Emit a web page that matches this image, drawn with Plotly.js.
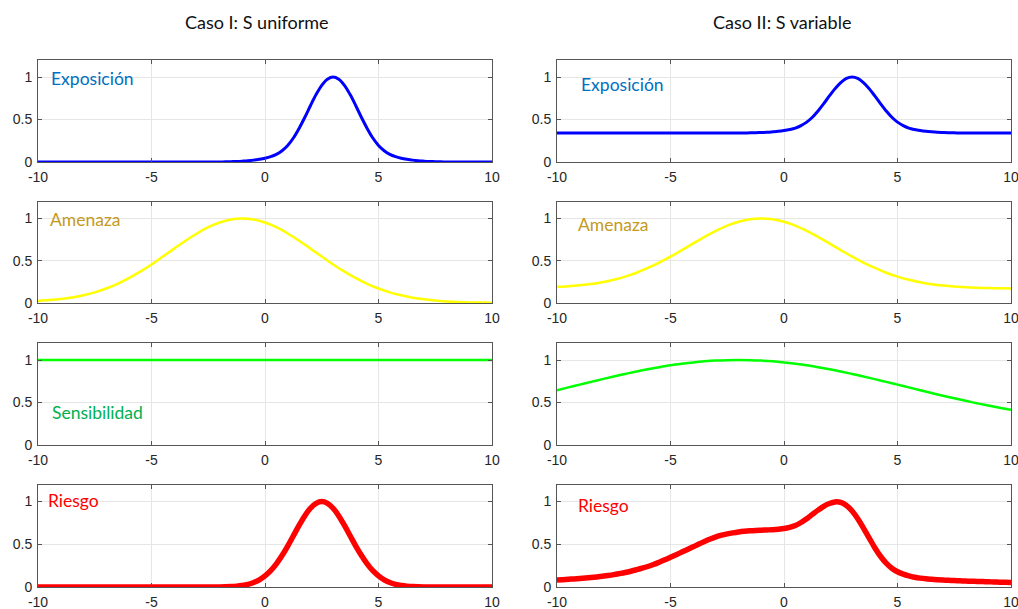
<!DOCTYPE html>
<html>
<head>
<meta charset="utf-8">
<script src="https://cdn.plot.ly/plotly-3.0.1.min.js"></script>
<style>html,body{margin:0;padding:0;background:#fff;}#chart{width:1018px;height:609px;}</style>
</head>
<body>
<div id="chart"></div>
<script>
// ---- data ----
// coarse grid (step 0.5) for the broad curves
const xCoarse = [-10,-9.5,-9,-8.5,-8,-7.5,-7,-6.5,-6,-5.5,-5,-4.5,-4,-3.5,-3,-2.5,-2,-1.5,-1,-0.5,0,0.5,1,1.5,2,2.5,3,3.5,4,4.5,5,5.5,6,6.5,7,7.5,8,8.5,9,9.5,10];
// fine grid (step 0.25) for the peaked curves
const xFine = [-10,-9.75,-9.5,-9.25,-9,-8.75,-8.5,-8.25,-8,-7.75,-7.5,-7.25,-7,-6.75,-6.5,-6.25,-6,-5.75,-5.5,-5.25,-5,-4.75,-4.5,-4.25,-4,-3.75,-3.5,-3.25,-3,-2.75,-2.5,-2.25,-2,-1.75,-1.5,-1.25,-1,-0.75,-0.5,-0.25,0,0.25,0.5,0.75,1,1.25,1.5,1.75,2,2.25,2.5,2.75,3,3.25,3.5,3.75,4,4.25,4.5,4.75,5,5.25,5.5,5.75,6,6.25,6.5,6.75,7,7.25,7.5,7.75,8,8.25,8.5,8.75,9,9.25,9.5,9.75,10];

// Caso I
const expo1 = [0,0,0,0,0,0,0,0,0,0,0,0,0,0,0,0,0,0,0,0,0,0,0,0,0,0,0,0,0,0,0,0,
  0.001,0.002,0.004,0.006,0.01,0.015,0.022,0.032,0.045,0.063,0.09,0.133,0.195,0.282,0.395,0.524,0.662,0.793,0.902,0.974,1,
  0.974,0.902,0.793,0.662,0.524,0.395,0.282,0.195,0.133,0.09,0.063,0.045,0.032,0.022,0.015,0.01,0.006,0.004,0.002,0.001,
  0,0,0,0,0,0,0,0];
const amen1 = [0.025,0.034,0.047,0.065,0.091,0.126,0.171,0.227,0.294,0.371,0.456,0.549,0.643,0.736,0.822,0.896,0.952,0.988,1,0.988,0.952,0.896,0.822,0.736,0.643,0.549,0.456,0.371,0.294,0.227,0.171,0.126,0.091,0.063,0.043,0.029,0.019,0.012,0.007,0.005,0.003];
const sens1 = [1,1,1,1,1,1,1,1,1,1,1,1,1,1,1,1,1,1,1,1,1,1,1,1,1,1,1,1,1,1,1,1,1,1,1,1,1,1,1,1,1];
const ries1 = [0,0,0,0,0,0,0,0,0,0,0,0,0,0,0,0,0,0,0,0,0,0,0,0,0,0,0,0,0,0,
  0,0.0006,0.0013,0.0027,0.0054,0.0101,0.0183,0.0317,0.0528,0.0845,0.13,0.191,0.271,0.368,0.479,0.6,0.721,0.832,0.922,0.98,1,
  0.98,0.922,0.832,0.721,0.6,0.479,0.368,0.271,0.191,0.13,0.0845,0.0528,0.0317,0.0183,0.0101,0.0054,0.0027,0.0013,0.0006,0,
  0,0,0,0,0,0,0,0,0,0];

// Caso II
const expo2 = [0.34,0.34,0.34,0.34,0.34,0.34,0.34,0.34,0.34,0.34,0.34,0.34,0.34,0.34,0.34,0.34,0.34,0.34,0.34,0.34,0.34,0.34,0.34,0.34,0.34,0.34,0.34,0.34,0.34,0.34,0.34,0.34,
  0.341,0.341,0.343,0.344,0.347,0.35,0.355,0.361,0.37,0.382,0.399,0.428,0.469,0.526,0.601,0.686,0.777,0.863,0.935,0.983,1,
  0.983,0.935,0.863,0.777,0.686,0.601,0.526,0.469,0.428,0.399,0.382,0.37,0.361,0.355,0.35,0.347,0.344,0.343,0.341,0.341,
  0.34,0.34,0.34,0.34,0.34,0.34,0.34,0.34];
const amen2 = [0.191,0.198,0.209,0.224,0.246,0.275,0.312,0.358,0.414,0.478,0.548,0.626,0.704,0.781,0.852,0.914,0.96,0.99,1,0.99,0.96,0.914,0.852,0.781,0.704,0.626,0.548,0.478,0.414,0.358,0.312,0.275,0.246,0.222,0.206,0.194,0.186,0.18,0.176,0.174,0.172];
const sens2 = [0.645,0.678,0.71,0.743,0.775,0.806,0.836,0.864,0.891,0.915,0.937,0.955,0.971,0.984,0.993,0.998,1,0.998,0.993,0.984,0.971,0.955,0.937,0.915,0.891,0.864,0.836,0.806,0.775,0.743,0.71,0.678,0.645,0.612,0.58,0.549,0.52,0.491,0.464,0.438,0.414];
const ries2 = [0.083,0.086,0.09,0.095,0.1,0.105,0.111,0.118,0.126,0.135,0.145,0.157,0.17,0.185,0.202,0.22,0.24,0.263,0.29,0.318,
  0.348,0.378,0.409,0.44,0.471,0.503,0.533,0.562,0.587,0.607,0.622,0.634,0.644,0.652,0.658,0.662,0.665,0.668,0.671,0.676,
  0.684,0.698,0.72,0.755,0.8,0.85,0.9,0.945,0.977,0.996,0.99,0.955,0.89,0.8,0.69,0.575,0.46,0.36,0.28,0.22,
  0.178,0.15,0.13,0.115,0.104,0.096,0.09,0.085,0.081,0.078,0.075,0.072,0.069,0.067,0.065,0.063,0.061,0.059,0.057,0.055,0.053];

const xTicks = [-10,-5,0,5,10];
const xTickText = ['-10','-5','0','5','10'];
const yTicks = [0,0.5,1];
const yTickText = ['0','0.5','1'];

const colTitles = ['Caso I: S uniforme','Caso II: S variable'];
const labels = ['Exposición','Amenaza','Sensibilidad','Riesgo'];

// ---- layout geometry (pixels) ----
const W = 1018, H = 609;
const colX = [[38,492],[557,1011]];
const rowY = [[60,162],[201.5,303],[343,445],[484.5,587]];
const px = v => v / W;
const py = v => 1 - v / H;

const series = [
  [[xFine, expo1], [xCoarse, amen1], [xCoarse, sens1], [xFine, ries1]],
  [[xFine, expo2], [xCoarse, amen2], [xCoarse, sens2], [xFine, ries2]]
];
const lineStyles = [
  {color:'#0000FF', width:3},
  {color:'#FFFF00', width:2.5},
  {color:'#00FF00', width:2.5},
  {color:'#FF0000', width:5.5}
];

const traces = [];
const layout = {
  width: W, height: H,
  margin: {l:0, r:0, t:0, b:0},
  paper_bgcolor: '#ffffff',
  plot_bgcolor: '#ffffff',
  showlegend: false,
  annotations: [],
  font: {family: 'Liberation Sans, Arial, sans-serif', size: 14, color: '#262626'}
};

for (let c = 0; c < 2; c++) {
  for (let r = 0; r < 4; r++) {
    const idx = c * 4 + r + 1;
    const sfx = idx === 1 ? '' : String(idx);
    traces.push({
      type: 'scatter', mode: 'lines',
      x: series[c][r][0], y: series[c][r][1],
      xaxis: 'x' + sfx, yaxis: 'y' + sfx,
      line: Object.assign({shape:'spline', smoothing:1}, lineStyles[r]),
      hoverinfo: 'x+y'
    });
    const common = {
      showgrid: true, gridcolor: '#e6e6e6', gridwidth: 1,
      zeroline: false,
      showline: true, mirror: 'ticks', linecolor: '#555555', linewidth: 1,
      ticks: 'inside', ticklen: 4, tickcolor: '#555555', tickwidth: 1,
      tickfont: {family: 'Liberation Sans, Arial, sans-serif', size: 14, color: '#262626'},
      ticklabeloverflow: 'allow',
      fixedrange: true
    };
    layout['xaxis' + sfx] = Object.assign({}, common, {
      domain: [px(colX[c][0]), px(colX[c][1])],
      range: [-10, 10],
      tickmode: 'array', tickvals: xTicks, ticktext: xTickText,
      anchor: 'y' + sfx,
      ticklabelstandoff: 2
    });
    layout['yaxis' + sfx] = Object.assign({}, common, {
      domain: [py(rowY[r][1]), py(rowY[r][0])],
      range: [0, 1.2],
      tickmode: 'array', tickvals: yTicks, ticktext: yTickText,
      anchor: 'x' + sfx,
      ticklabelstandoff: 2
    });
  }
}

// column titles
const titlePos = [[256.5, 22], [782, 22]];
colTitles.forEach((t, i) => {
  layout.annotations.push({
    text: t, xref: 'paper', yref: 'paper',
    x: px(titlePos[i][0]), y: py(titlePos[i][1]),
    xanchor: 'center', yanchor: 'middle', showarrow: false,
    font: {family: 'Lato, Open Sans, sans-serif', size: 18, color: '#111111'}
  });
});

// panel labels
const labelColors = ['#0070C0', '#C49A1C', '#00B050', '#FF0000'];
const labelPos = [
  {c:0, r:0, x:48.5, y:78},
  {c:1, r:0, x:578.5, y:85},
  {c:0, r:1, x:48, y:219},
  {c:1, r:1, x:576, y:224},
  {c:0, r:2, x:49.5, y:413},
  {c:0, r:3, x:46, y:500},
  {c:1, r:3, x:576, y:505}
];
labelPos.forEach(p => {
  layout.annotations.push({
    text: labels[p.r], xref: 'paper', yref: 'paper',
    x: px(p.x), y: py(p.y),
    xanchor: 'left', yanchor: 'middle', showarrow: false,
    font: {family: 'Lato, Open Sans, sans-serif', size: 17.5, color: labelColors[p.r]}
  });
});

Plotly.newPlot('chart', traces, layout, {displayModeBar: false, staticPlot: true});
</script>
</body>
</html>
